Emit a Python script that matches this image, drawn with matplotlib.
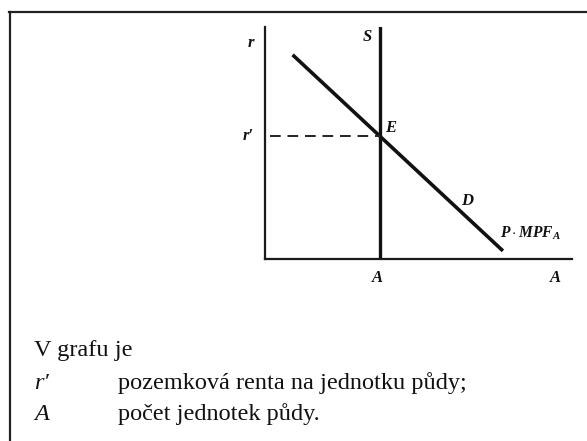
import matplotlib
matplotlib.use("Agg")
import matplotlib.pyplot as plt
from matplotlib.lines import Line2D
import numpy as np

plt.rcParams['mathtext.fontset'] = 'custom'
plt.rcParams['mathtext.it'] = 'Liberation Serif:italic:bold'
plt.rcParams['mathtext.rm'] = 'Liberation Serif:italic:bold'
plt.rcParams['mathtext.bf'] = 'Liberation Serif:italic:bold'

# ---- diagram data (abstract units) ----
x_max = 10.0
y_max = 10.0
supply_x = 3.75                     # vertical supply line S (fixed quantity of land A)
demand_x = [0.9, 7.75]              # P·MPF_A demand line endpoints
demand_y = [8.8, 0.35]

# labels
axis_y_label = "r"
axis_x_label = "A"
supply_label = "S"
eq_label = "E"
demand_label = "D"
mpf_label = r"$P\cdot MPF_A$"
rent_tick = "r′"
qty_tick = "A"

legend_title = "V grafu je"
legend_symbols = ["r′", "A"]
legend_texts = ["pozemková renta na jednotku půdy;", "počet jednotek půdy."]

W, H = 587, 441
fig = plt.figure(figsize=(W / 100, H / 100), dpi=100)

def px_rect(x0, y0, x1, y1):
    return [x0 / W, 1 - y1 / H, (x1 - x0) / W, (y1 - y0) / H]

ax = fig.add_axes(px_rect(265, 27, 572, 259))
ax.set_xlim(0, x_max)
ax.set_ylim(0, y_max)
for s in ['top', 'right']:
    ax.spines[s].set_visible(False)
for s in ['left', 'bottom']:
    ax.spines[s].set_linewidth(1.6)
    ax.spines[s].set_color('#1a1a1a')
ax.set_xticks([])
ax.set_yticks([])
ax.patch.set_alpha(0)

# demand line
ax.plot(demand_x, demand_y, color='#111111', lw=2.6, solid_capstyle='butt')
# supply line
ax.plot([supply_x, supply_x], [0, y_max], color='#111111', lw=2.4)

# equilibrium
slope = (demand_y[1] - demand_y[0]) / (demand_x[1] - demand_x[0])
r_eq = demand_y[0] + slope * (supply_x - demand_x[0])
ax.plot([0.15, supply_x], [r_eq, r_eq], color='#222222', lw=1.4, ls=(0, (5.5, 3.5)))

lab = dict(family='Liberation Serif', fontweight='bold', fontstyle='italic',
           fontsize=12, color='#111111')
ax.text(-0.35, 9.3, axis_y_label, ha='right', va='center', **lab)
ax.text(supply_x - 0.25, 9.55, supply_label, ha='right', va='center', **lab)
ax.text(-0.35, r_eq, rent_tick, ha='right', va='center', **lab)
ax.text(supply_x + 0.15, r_eq + 0.35, eq_label, ha='left', va='center', **lab)
d_x = 6.55
ax.text(d_x - 0.15, demand_y[0] + slope * (d_x - demand_x[0]) + 0.65, demand_label,
        ha='left', va='center', **lab)
ax.text(7.65, 1.1, mpf_label, ha='left', va='center', fontsize=11.2, color='#111111')
ax.text(supply_x - 0.1, -0.8, qty_tick, ha='center', va='center', **lab)
ax.text(9.45, -0.8, axis_x_label, ha='center', va='center', **lab)

# border lines
fig.add_artist(Line2D([9 / W, 1.0], [1 - 12 / H, 1 - 12 / H], color='#222222', lw=1.6,
                      transform=fig.transFigure))
fig.add_artist(Line2D([10 / W, 10 / W], [1 - 12 / H, 0], color='#222222', lw=1.6,
                      transform=fig.transFigure))

# bottom explanation text
txt = dict(family='Liberation Serif', fontsize=17.5, color='#111111', va='baseline')
fig.text(34 / W, 1 - 356 / H, legend_title, ha='left', **txt)
baselines = [389, 420]
for sym, t, yb in zip(legend_symbols, legend_texts, baselines):
    fig.text(34 / W, 1 - yb / H, sym, ha='left', fontstyle='italic', **txt)
    fig.text(118 / W, 1 - yb / H, t, ha='left', **txt)

fig.savefig("out.png", dpi=100, facecolor='white')
